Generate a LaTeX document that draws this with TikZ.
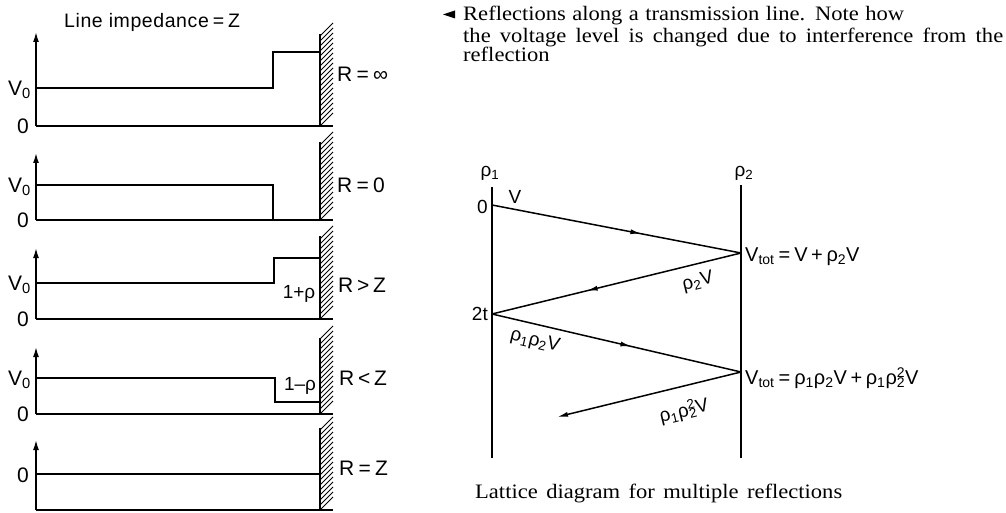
\documentclass[tikz,border=0pt]{standalone}
\usepackage{fontspec}
\setmainfont{Liberation Serif}
\newfontfamily\lblf{Liberation Sans}
\newfontfamily\capf[FakeStretch=1.1]{Liberation Serif}
\usetikzlibrary{arrows.meta,decorations.markings}
\newcommand\qeq{\hspace{.2em}=\hspace{.2em}}
\newcommand\qsp{\hspace{.18em}}
\tikzset{
  ln/.style={line width=1.5pt, line join=miter},
  lab/.style={font=\lblf\fontsize{19}{22}\selectfont, inner sep=0pt},
  biglab/.style={font=\lblf\fontsize{21}{24}\selectfont, inner sep=0pt},
  capt/.style={font=\capf\fontsize{20.5}{24}\selectfont, inner sep=0pt, anchor=base west},
  yaxis/.style={ln, -{Latex[length=10pt,width=6pt]}},
  hatchln/.style={line width=0.9pt},
  midarrow/.style={ln, postaction={decorate}, decoration={markings, mark=at position #1 with {\arrow{Latex[length=11pt,width=5pt]}}}},
  endarrow/.style={ln, -{Latex[length=11pt,width=5pt]}}
}
\newcommand\mywall[2]{%
  \draw[ln] (320,#1) -- (320,#2);
  \pgfmathtruncatemacro\nh{(#2-#1)/5}
  \foreach \k in {0,...,\nh} {\draw[hatchln] (320,#2-5*\k) -- ++(13,-13);}
}
\begin{document}
\begin{tikzpicture}[x=1pt,y=-1pt]
\useasboundingbox (0,0) rectangle (1006,513);
\fill[white] (0,0) rectangle (1006,513);

% ---------- left: five panels ----------
\node[lab, anchor=west, font=\lblf\fontsize{19.5}{22}\selectfont\addfontfeatures{LetterSpace=3}] (title) at (64,22) {Line impedance\qeq Z};

% panel 1
\draw[yaxis] (36,126) -- (36,32);
\draw[ln] (36,126) -- (333,126);
\draw[ln] (36,88) -- (273,88) -- (273,52) -- (320,52);
\mywall{34}{126}
\node[biglab, anchor=east] (v1) at (31,90) {V\textsubscript{0}};
\node[biglab, anchor=east] (z1) at (29,126) {0};
\node[biglab, anchor=west] (r1) at (337,74) {R\qeq ∞};

% panel 2
\draw[yaxis] (36,220) -- (36,153);
\draw[ln] (36,220) -- (333,220);
\draw[ln] (36,185) -- (273,185) -- (273,220);
\mywall{142}{220}
\node[biglab, anchor=east] (v2) at (31,187) {V\textsubscript{0}};
\node[biglab, anchor=east] (z2) at (29,220) {0};
\node[biglab, anchor=west] (r2) at (337,185) {R\qeq 0};

% panel 3
\draw[yaxis] (36,319) -- (36,248);
\draw[ln] (36,319) -- (333,319);
\draw[ln] (36,283) -- (274,283) -- (274,258) -- (320,258);
\mywall{236}{319}
\node[biglab, anchor=east] (v3) at (31,285) {V\textsubscript{0}};
\node[biglab, anchor=east] (z3) at (29,319) {0};
\node[lab] (k3) at (299,294) {1+ρ};
\node[biglab, anchor=west] (r3) at (338,285) {R\qsp>\qsp Z};

% panel 4
\draw[yaxis] (36,414) -- (36,347);
\draw[ln] (36,414) -- (333,414);
\draw[ln] (36,378) -- (275,378) -- (275,402) -- (320,402);
\mywall{338}{414}
\node[biglab, anchor=east] (v4) at (31,380) {V\textsubscript{0}};
\node[biglab, anchor=east] (z4) at (29,414) {0};
\node[lab] (k4) at (300,386) {1–ρ};
\node[biglab, anchor=west] (r4) at (339,378) {R\qsp<\qsp Z};

% panel 5
\draw[yaxis] (36,510) -- (36,440);
\draw[ln] (36,510) -- (333,510);
\draw[ln] (36,474) -- (320,474);
\mywall{428}{510}
\node[biglab, anchor=east] (z5) at (29,475) {0};
\node[biglab, anchor=west] (r5) at (339,468) {R\qeq Z};

% ---------- top caption ----------
\fill (443,14.5) -- (455,10.5) -- (455,18.5) -- cycle;
\node[capt] (c1) at (463,21) {\makebox[441pt][s]{Reflections along a transmission line. Note how}};
\node[capt] (c2) at (463,43) {\makebox[540pt][s]{the voltage level is changed due to interference from the}};
\node[capt] (c3) at (463,62) {reflection};

% ---------- lattice diagram ----------
\coordinate (L1) at (492,187);
\coordinate (L2) at (492,458);
\coordinate (R1) at (741,185);
\coordinate (R2) at (741,458);
\coordinate (A) at (492,205);
\coordinate (B) at (741,253);
\coordinate (C) at (492,314);
\coordinate (D) at (741,372);
\coordinate (E) at (557,417);
\draw[ln] (L1) -- (L2);
\draw[ln] (R1) -- (R2);
\draw[midarrow=0.6] (A) -- (B);
\draw[midarrow=0.62] (B) -- (C);
\draw[midarrow=0.56] (C) -- (D);
\draw[endarrow] (D) -- (E);

\node[lab] (p1) at (490,173) {ρ\textsubscript{1}};
\node[lab] (p2) at (744,173) {ρ\textsubscript{2}};
\node[lab, anchor=east] (t0) at (488,207) {0};
\node[lab] (lv) at (515,197) {V};
\node[lab, anchor=east] (t2) at (488,314) {2t};
\node[lab, rotate=14] (l2) at (698,282) {ρ\textsubscript{2}V};
\node[lab, rotate=-13] (l3) at (535,341) {ρ\textsubscript{1}ρ\textsubscript{2}V};
\node[lab, rotate=14] (l4) at (684,411) {ρ\textsubscript{1}ρ\rlap{\textsubscript{2}}\textsuperscript{2}V};
\node[lab, anchor=west, font=\lblf\fontsize{20}{22}\selectfont] (vt1) at (745,257) {V\textsubscript{tot}\qeq V\qsp+\qsp ρ\textsubscript{2}V};
\node[lab, anchor=west, font=\lblf\fontsize{20}{22}\selectfont] (vt2) at (745,378) {V\textsubscript{tot}\qeq ρ\textsubscript{1}ρ\textsubscript{2}V\qsp+\qsp ρ\textsubscript{1}ρ\rlap{\textsubscript{2}}\textsuperscript{2}V};

\node[capt] (c4) at (475,498) {\makebox[367pt][s]{Lattice diagram for multiple reflections}};
\end{tikzpicture}
\end{document}
